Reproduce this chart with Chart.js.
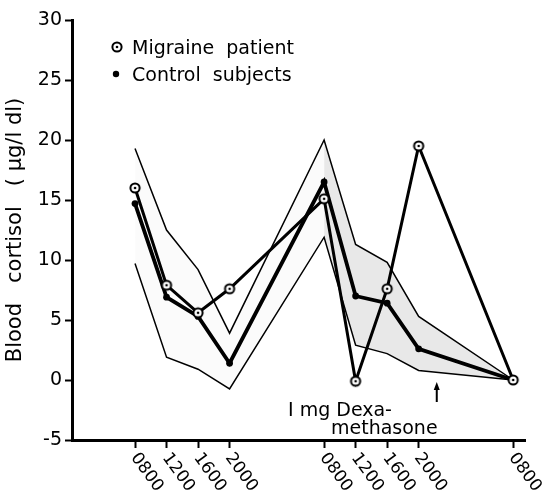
<!DOCTYPE html>
<html><head><meta charset="utf-8">
<script src="https://cdn.jsdelivr.net/npm/chart.js@4/dist/chart.umd.min.js"></script>
<style>html,body{margin:0;padding:0;background:#fff}#wrap{width:543px;height:497px;position:relative}</style>
</head><body><div id="wrap"><canvas id="c" width="543" height="497"></canvas></div>
<script>
// hours since first 0800 sample
const hours = [0, 4, 8, 12, 24, 28, 32, 36, 48];
const timeLabels = ['0800', '1200', '1600', '2000', '0800', '1200', '1600', '2000', '0800'];
const migraine = [16.0, 7.9, 5.6, 7.6, 15.1, -0.1, 7.6, 19.5, 0];
const control = [14.7, 6.9, 5.3, 1.4, 16.5, 7.0, 6.4, 2.6, 0];
const upperBound = [19.3, 12.5, 9.2, 3.9, 20.0, 11.3, 9.8, 5.3, 0];
const lowerBound = [9.7, 1.9, 0.9, -0.75, 11.9, 2.9, 2.2, 0.8, 0];
const yTicks = [-5, 0, 5, 10, 15, 20, 25, 30];
const legendLabels = ['Migraine  patient', 'Control  subjects'];
const yTitle = 'Blood   cortisol   ( \u00b5g/l dl)';
const noteLines = ['I mg Dexa-', 'methasone'];
const doseHour = 38.3;

const FONT = '"DejaVu Sans", sans-serif';

function ringMarker(){
  const c = document.createElement('canvas');
  c.width = 14; c.height = 14;
  const g = c.getContext('2d');
  g.fillStyle = '#fff';
  g.beginPath(); g.arc(7, 7, 4.6, 0, Math.PI*2); g.fill();
  g.lineWidth = 2; g.strokeStyle = '#000';
  g.beginPath(); g.arc(7, 7, 4.6, 0, Math.PI*2); g.stroke();
  g.fillStyle = '#000';
  g.beginPath(); g.arc(7, 7, 1.3, 0, Math.PI*2); g.fill();
  return c;
}
const ring = ringMarker();

const pts = (arr, from = 0, to = arr.length) =>
  hours.slice(from, to).map((h, i) => ({ x: h, y: arr[from + i] }));

const decor = {
  id: 'decor',
  afterDraw(chart){
    const { ctx, scales: { x, y } } = chart;
    ctx.save();
    ctx.fillStyle = '#000';
    ctx.strokeStyle = '#000';
    // rotated x tick labels
    ctx.font = '17px ' + FONT;
    ctx.textAlign = 'left';
    ctx.textBaseline = 'middle';
    hours.forEach((h, i) => {
      const px = x.getPixelForValue(h);
      ctx.save();
      ctx.translate(px - 1, y.bottom + 15);
      ctx.rotate(54 * Math.PI / 180);
      ctx.fillText(timeLabels[i], 0, 0);
      ctx.restore();
    });
    // legend
    ctx.font = '19px ' + FONT;
    ctx.drawImage(ring, 117 - 7, 47 - 7);
    ctx.fillText(legendLabels[0], 132, 49);
    ctx.beginPath(); ctx.arc(116, 74, 3.2, 0, Math.PI*2); ctx.fill();
    ctx.fillText(legendLabels[1], 132, 76);
    // note
    ctx.font = '19px ' + FONT;
    ctx.fillText(noteLines[0], 288, 411);
    ctx.fillText(noteLines[1], 331, 429);
    // arrow
    const ax = x.getPixelForValue(doseHour);
    ctx.lineWidth = 2;
    ctx.beginPath(); ctx.moveTo(ax, 402); ctx.lineTo(ax, 387); ctx.stroke();
    ctx.beginPath(); ctx.moveTo(ax, 382); ctx.lineTo(ax - 3, 390); ctx.lineTo(ax + 3, 390); ctx.closePath(); ctx.fill();
    ctx.restore();
  }
};

new Chart(document.getElementById('c'), {
  type: 'line',
  data: {
    datasets: [
      { label: 'migraine', data: pts(migraine), borderColor: '#000', borderWidth: 3,
        pointStyle: ring, pointRadius: 5, tension: 0, order: 1 },
      { label: 'control', data: pts(control), borderColor: '#000', borderWidth: 3.8,
        pointStyle: 'circle', pointRadius: 3.4, pointBackgroundColor: '#000', pointBorderWidth: 0, tension: 0, order: 2 },
      { label: 'upper', data: pts(upperBound), borderColor: '#000', borderWidth: 1.5, pointRadius: 0, tension: 0, order: 5 },
      { label: 'lower', data: pts(lowerBound), borderColor: '#000', borderWidth: 1.5, pointRadius: 0, tension: 0, order: 5 },
      { label: 'band2u', data: pts(upperBound, 4), borderWidth: 0, pointRadius: 0, tension: 0,
        fill: 5, backgroundColor: 'rgba(0,0,0,0.09)', order: 10 },
      { label: 'band2l', data: pts(lowerBound, 4), borderWidth: 0, pointRadius: 0, tension: 0, order: 10 },
      { label: 'band1u', data: pts(upperBound, 0, 5), borderWidth: 0, pointRadius: 0, tension: 0,
        fill: 7, backgroundColor: 'rgba(0,0,0,0.015)', order: 11 },
      { label: 'band1l', data: pts(lowerBound, 0, 5), borderWidth: 0, pointRadius: 0, tension: 0, order: 11 }
    ]
  },
  options: {
    responsive: false,
    animation: false,
    devicePixelRatio: 1,
    layout: { padding: { left: 0, right: 18, top: 20, bottom: 0 } },
    plugins: { legend: { display: false }, tooltip: { enabled: false } },
    scales: {
      x: {
        type: 'linear', min: -8, max: 49.5,
        afterBuildTicks: s => { s.ticks = hours.map(v => ({ value: v })); },
        afterFit: s => { s.height = 57; },
        ticks: { display: false },
        grid: { drawOnChartArea: false, drawTicks: true, tickLength: 8, tickWidth: 2, tickColor: '#000' },
        border: { display: true, color: '#000', width: 3 }
      },
      y: {
        min: -5, max: 30,
        afterBuildTicks: s => { s.ticks = yTicks.map(v => ({ value: v })); },
        afterFit: s => { s.width = 72; },
        ticks: { color: '#000', font: { family: FONT, size: 19 }, padding: 3 },
        grid: { drawOnChartArea: false, drawTicks: true, tickLength: 7, tickWidth: 2, tickColor: '#000' },
        border: { display: true, color: '#000', width: 3 },
        title: { display: true, text: yTitle, color: '#000', font: { family: FONT, size: 21 }, padding: { top: 3, bottom: 0 } }
      }
    }
  },
  plugins: [decor]
});
</script></body></html>
